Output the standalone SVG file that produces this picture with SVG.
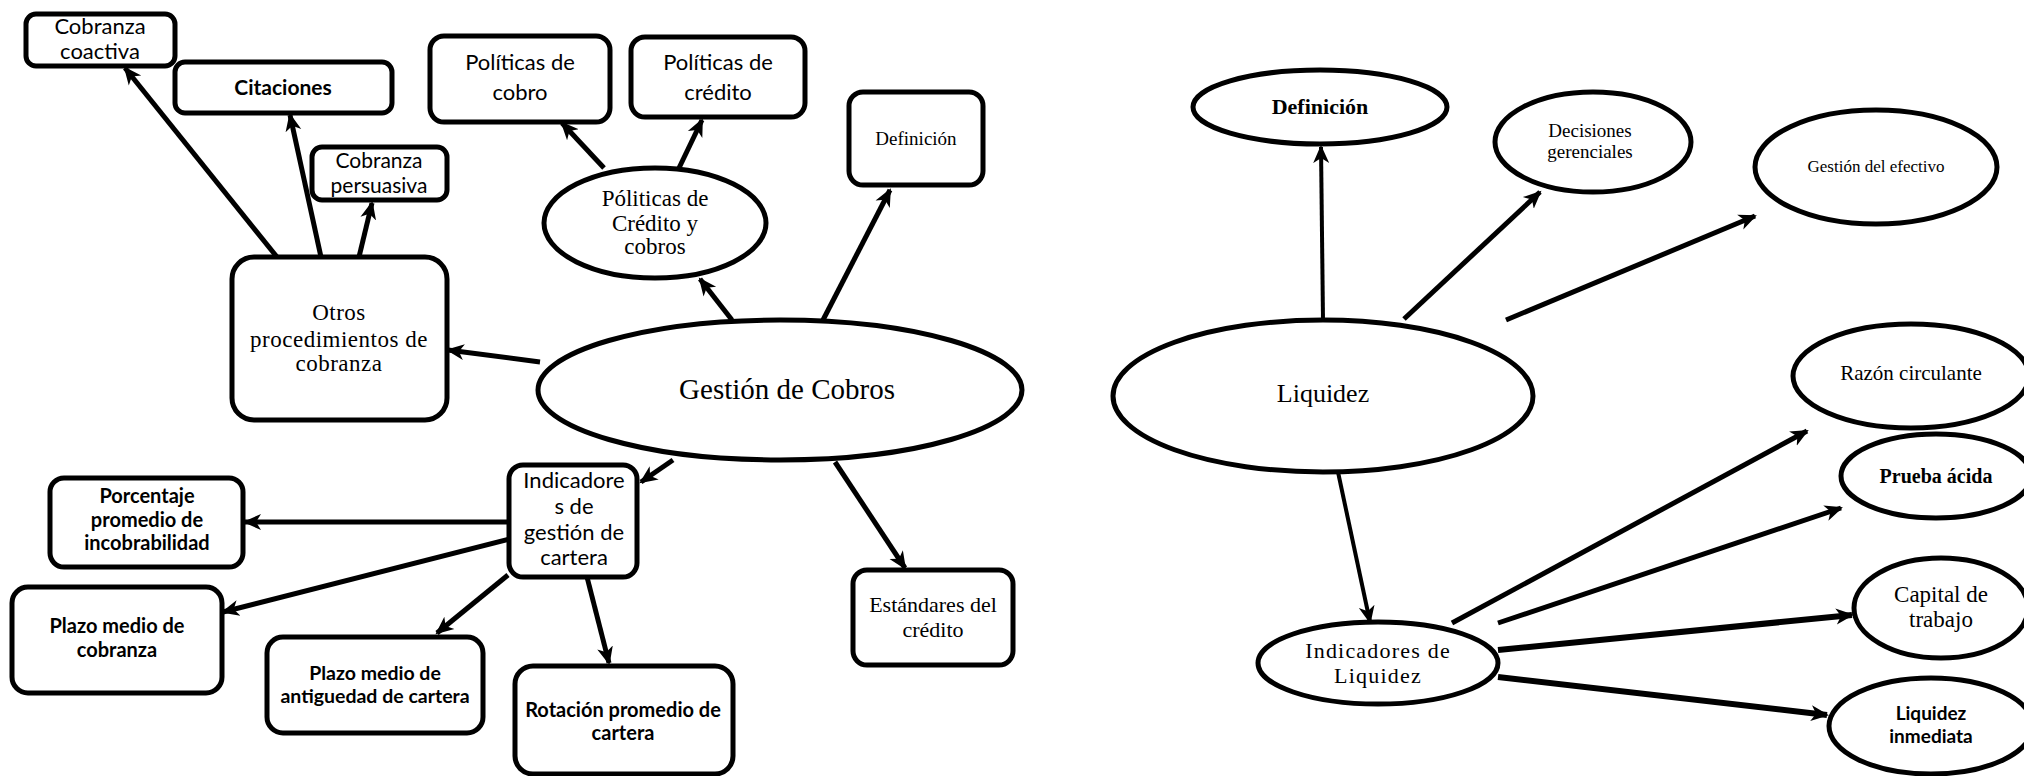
<svg xmlns="http://www.w3.org/2000/svg" width="2024" height="776" viewBox="0 0 2024 776">
<defs>
<marker id="ah" markerUnits="userSpaceOnUse" markerWidth="20" markerHeight="20" viewBox="0 0 20 20" refX="16" refY="10" orient="auto">
<path d="M0,2 L18,10 L0,18 L5,10 z" fill="#000"/>
</marker>
<style>
.box{fill:#fff;stroke:#000;stroke-width:5}
.ell{fill:#fff;stroke:#000;stroke-width:5}
.c{stroke:#000;stroke-width:5;fill:none;marker-end:url(#ah)}
.t{stroke:#000;stroke-width:4;fill:none;marker-end:url(#ah)}
.sans{font-family:Lato,"Liberation Sans",sans-serif;fill:#000;text-anchor:middle}
.sb{font-family:Lato,"Liberation Sans",sans-serif;font-weight:bold;fill:#000;text-anchor:middle}
.serif{font-family:"Liberation Serif","DejaVu Serif",serif;fill:#000;text-anchor:middle}
</style>
</defs>
<rect width="2024" height="776" fill="#fff"/>
<g id="connectors">
<line class="c" x1="277" y1="257" x2="125" y2="68"/>
<line class="c" x1="321" y1="257" x2="290" y2="115"/>
<line class="c" x1="359" y1="257" x2="372" y2="203"/>
<line class="c" x1="540" y1="362" x2="448" y2="350"/>
<line class="c" x1="732" y1="320" x2="700" y2="279"/>
<line class="c" x1="604" y1="168" x2="562" y2="123"/>
<line class="c" x1="679" y1="168" x2="702" y2="120"/>
<line class="c" x1="823" y1="320" x2="890" y2="190"/>
<line class="c" x1="673" y1="460" x2="641" y2="482"/>
<line class="c" x1="835" y1="462" x2="905" y2="568"/>
<line class="c" x1="510" y1="522" x2="245" y2="522"/>
<line class="c" x1="510" y1="539" x2="223" y2="612"/>
<line class="c" x1="508" y1="575" x2="437" y2="633"/>
<line class="c" x1="587" y1="577" x2="609" y2="663"/>
<line class="t" x1="1323" y1="320" x2="1321" y2="147"/>
<line class="c" x1="1404" y1="319" x2="1540" y2="192"/>
<line class="c" x1="1506" y1="320" x2="1755" y2="216"/>
<line class="t" x1="1338" y1="472" x2="1370" y2="622"/>
<line class="c" x1="1452" y1="623" x2="1807" y2="431"/>
<line class="c" x1="1498" y1="623" x2="1841" y2="508"/>
<line class="c" x1="1498" y1="650" x2="1852" y2="615" style="stroke-width:6"/>
<line class="c" x1="1498" y1="677" x2="1827" y2="715" style="stroke-width:6"/>
</g>
<g id="cobranza-coactiva">
<rect class="box" x="26" y="14" width="149" height="52" rx="10"/>
<text class="sans" font-size="22" x="100" y="34">Cobranza</text>
<text class="sans" font-size="22" x="100" y="59">coactiva</text>
</g>
<g id="citaciones">
<rect class="box" x="175" y="62" width="217" height="51" rx="10"/>
<text class="sb" font-size="21" x="283" y="95">Citaciones</text>
</g>
<g id="cobranza-persuasiva">
<rect class="box" x="312" y="147" width="135" height="53" rx="10"/>
<text class="sans" font-size="21" x="379" y="168">Cobranza</text>
<text class="sans" font-size="21" x="379" y="193">persuasiva</text>
</g>
<g id="otros">
<rect class="box" x="232" y="257" width="215" height="163" rx="22"/>
<text class="serif" font-size="23" letter-spacing="0.5" x="339" y="320">Otros</text>
<text class="serif" font-size="23" letter-spacing="0.5" x="339" y="347">procedimientos de</text>
<text class="serif" font-size="23" letter-spacing="0.5" x="339" y="371">cobranza</text>
</g>
<g id="politicas-cobro">
<rect class="box" x="430" y="36" width="180" height="86" rx="14"/>
<text class="sans" font-size="22" x="520" y="70">Políticas de</text>
<text class="sans" font-size="22" x="520" y="100">cobro</text>
</g>
<g id="politicas-credito">
<rect class="box" x="631" y="37" width="174" height="80" rx="14"/>
<text class="sans" font-size="22" x="718" y="70">Políticas de</text>
<text class="sans" font-size="22" x="718" y="100">crédito</text>
</g>
<g id="definicion-box">
<rect class="box" x="849" y="92" width="134" height="93" rx="14"/>
<text class="serif" font-size="19" x="916" y="145">Definición</text>
</g>
<g id="politicas-credito-cobros">
<ellipse class="ell" cx="655" cy="223" rx="111" ry="55"/>
<text class="serif" font-size="23" x="655" y="206">Póliticas de</text>
<text class="serif" font-size="23" x="655" y="231">Crédito y</text>
<text class="serif" font-size="23" x="655" y="254">cobros</text>
</g>
<g id="gestion-cobros">
<ellipse class="ell" cx="780" cy="390" rx="242" ry="70"/>
<text class="serif" font-size="29" x="787" y="399">Gestión de Cobros</text>
</g>
<g id="indicadores-gestion">
<rect class="box" x="509" y="465" width="128" height="112" rx="14"/>
<text class="sans" font-size="22" x="574" y="488">Indicadore</text>
<text class="sans" font-size="22" x="574" y="514">s de</text>
<text class="sans" font-size="22" x="574" y="540">gestión de</text>
<text class="sans" font-size="22" x="574" y="565">cartera</text>
</g>
<g id="porcentaje">
<rect class="box" x="50" y="478" width="193" height="89" rx="14"/>
<text class="sb" font-size="20" x="147" y="503">Porcentaje</text>
<text class="sb" font-size="20" x="147" y="527">promedio de</text>
<text class="sb" font-size="20" x="147" y="550">incobrabilidad</text>
</g>
<g id="plazo-cobranza">
<rect class="box" x="12" y="587" width="210" height="106" rx="16"/>
<text class="sb" font-size="20" x="117" y="633">Plazo medio de</text>
<text class="sb" font-size="20" x="117" y="657">cobranza</text>
</g>
<g id="plazo-antiguedad">
<rect class="box" x="267" y="637" width="216" height="96" rx="16"/>
<text class="sb" font-size="19.5" x="375" y="680">Plazo medio de</text>
<text class="sb" font-size="19.5" x="375" y="703">antiguedad de cartera</text>
</g>
<g id="rotacion">
<rect class="box" x="515" y="666" width="218" height="108" rx="18"/>
<text class="sb" font-size="20" x="623" y="717">Rotación promedio de</text>
<text class="sb" font-size="20" x="623" y="740">cartera</text>
</g>
<g id="estandares">
<rect class="box" x="853" y="570" width="160" height="95" rx="14"/>
<text class="serif" font-size="22" x="933" y="612">Estándares del</text>
<text class="serif" font-size="22" x="933" y="637">crédito</text>
</g>
<g id="definicion">
<ellipse class="ell" cx="1320" cy="107" rx="127" ry="37"/>
<text class="serif" font-size="22" font-weight="bold" x="1320" y="114">Definición</text>
</g>
<g id="decisiones">
<ellipse class="ell" cx="1593" cy="142" rx="98" ry="50"/>
<text class="serif" font-size="19" x="1590" y="137">Decisiones</text>
<text class="serif" font-size="19" x="1590" y="158">gerenciales</text>
</g>
<g id="gestion-efectivo">
<ellipse class="ell" cx="1876" cy="167" rx="121" ry="57"/>
<text class="serif" font-size="17" x="1876" y="172">Gestión del efectivo</text>
</g>
<g id="liquidez">
<ellipse class="ell" cx="1323" cy="396" rx="210" ry="76"/>
<text class="serif" font-size="26" x="1323" y="402">Liquidez</text>
</g>
<g id="indicadores-liquidez">
<ellipse class="ell" cx="1378" cy="663" rx="120" ry="41"/>
<text class="serif" font-size="22" letter-spacing="1.2" x="1378" y="658">Indicadores de</text>
<text class="serif" font-size="22" letter-spacing="1.2" x="1378" y="683">Liquidez</text>
</g>
<g id="razon-circulante">
<ellipse class="ell" cx="1911" cy="376" rx="118" ry="52"/>
<text class="serif" font-size="21" x="1911" y="380">Razón circulante</text>
</g>
<g id="prueba-acida">
<ellipse class="ell" cx="1936" cy="476" rx="95" ry="42"/>
<text class="serif" font-size="20" font-weight="bold" x="1936" y="483">Prueba ácida</text>
</g>
<g id="capital-trabajo">
<ellipse class="ell" cx="1941" cy="608" rx="87" ry="50"/>
<text class="serif" font-size="23" x="1941" y="602">Capital de</text>
<text class="serif" font-size="23" x="1941" y="627">trabajo</text>
</g>
<g id="liquidez-inmediata">
<ellipse class="ell" cx="1931" cy="726" rx="102" ry="48"/>
<text class="sb" font-size="19" x="1931" y="720">Liquidez</text>
<text class="sb" font-size="19" x="1931" y="743">inmediata</text>
</g>
</svg>
